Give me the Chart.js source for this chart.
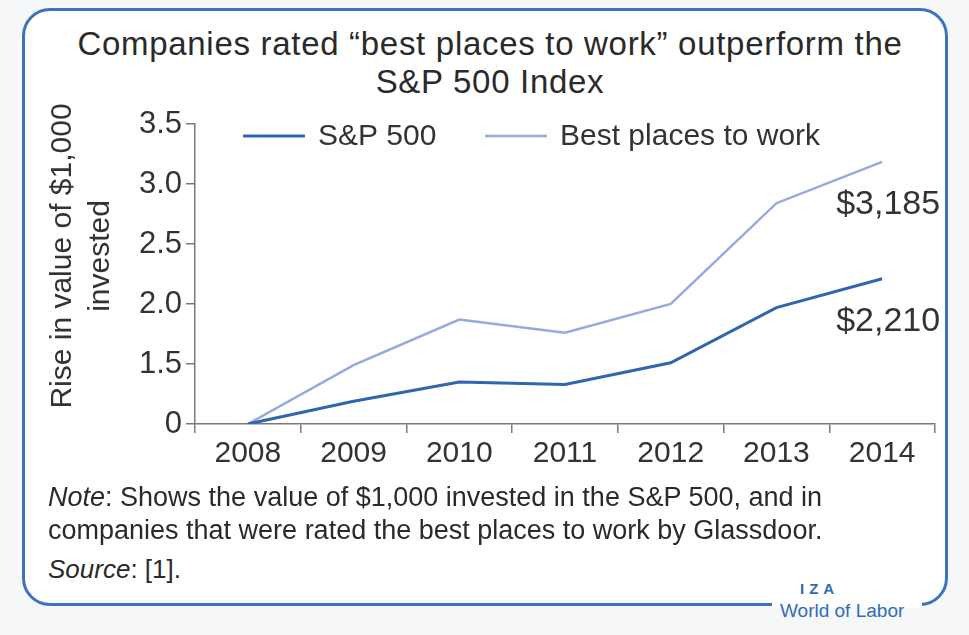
<!DOCTYPE html>
<html>
<head>
<meta charset="utf-8">
<script src="https://cdn.jsdelivr.net/npm/chart.js@4"></script>
<style>
  body { margin: 0; width: 969px; height: 635px; background: #f6f7f9; overflow: hidden; position: relative;
         font-family: "Liberation Sans", Arial, sans-serif; color: #2a2a2a; }
  .frame { position: absolute; left: 22px; top: 8px; width: 920px; height: 592px; background: #fff;
           border: 3px solid #3a74bd; border-radius: 28px; }
  .title { position: absolute; left: 30px; width: 920px; top: 25px; text-align: center; font-size: 33px; line-height: 38px; letter-spacing: 0.7px; }
  .chart { position: absolute; left: 30px; top: 100px; width: 920px; height: 385px; }
  .note { position: absolute; left: 48px; top: 481px; font-size: 27px; line-height: 33px; }
  .source { position: absolute; left: 48px; top: 554px; font-size: 26px; }
  .logo-gap { position: absolute; left: 772px; top: 594px; width: 150px; height: 14px; background: #fff; }
  .iza { position: absolute; left: 800px; top: 580px; font-size: 15px; font-weight: bold; color: #2f6db6; letter-spacing: 5px; }
  .wol { position: absolute; left: 780px; top: 600px; font-size: 19px; color: #2f6db6; }
</style>
</head>
<body>
<div class="frame"></div>
<div class="logo-gap"></div>
<div class="title">Companies rated “best places to work” outperform the<br>S&amp;P 500 Index</div>
<div class="chart"><canvas id="lineChart"></canvas></div>
<div class="note"><i>Note</i>: Shows the value of $1,000 invested in the S&amp;P 500, and in<br>companies that were rated the best places to work by Glassdoor.</div>
<div class="source"><i>Source</i>: [1].</div>
<div class="iza">IZA</div>
<div class="wol">World of Labor</div>

<script>
// years on the x axis
const years = ['2008', '2009', '2010', '2011', '2012', '2013', '2014'];
// value of $1,000 invested (in thousands)
const sp500 = [1.0, 1.19, 1.35, 1.33, 1.51, 1.97, 2.21];
const bestPlaces = [1.0, 1.49, 1.87, 1.76, 2.0, 2.84, 3.185];
const endLabels = ['$2,210', '$3,185'];
const yTicks = [1.0, 1.5, 2.0, 2.5, 3.0, 3.5];
const yTitle = ['Rise in value of $1,000', 'invested'];

const axisColor = '#7a7a7a';
const textColor = '#333';
const fontFamily = '"Liberation Sans", Arial, sans-serif';

// legend drawn inside the plot area, like the original
const insideLegend = {
    id: 'insideLegend',
    afterDraw(chart) {
        const ctx = chart.ctx;
        const area = chart.chartArea;
        const y = area.top + 12;
        const spots = [area.left + 48, area.left + 290];
        ctx.save();
        ctx.font = '30px ' + fontFamily;
        ctx.textBaseline = 'middle';
        chart.data.datasets.forEach((ds, i) => {
            const x = spots[i];
            ctx.strokeStyle = ds.borderColor;
            ctx.lineWidth = ds.borderWidth;
            ctx.beginPath();
            ctx.moveTo(x, y);
            ctx.lineTo(x + 62, y);
            ctx.stroke();
            ctx.fillStyle = textColor;
            ctx.fillText(ds.label, x + 75, y + 1);
        });
        ctx.restore();
    }
};

// end-of-line value labels
const endValueLabels = {
    id: 'endValueLabels',
    afterDatasetsDraw(chart) {
        const ctx = chart.ctx;
        ctx.save();
        ctx.font = '34px ' + fontFamily;
        ctx.fillStyle = textColor;
        ctx.textAlign = 'right';
        ctx.textBaseline = 'middle';
        chart.data.datasets.forEach((ds, i) => {
            const pts = chart.getDatasetMeta(i).data;
            const last = pts[pts.length - 1];
            ctx.fillText(endLabels[i], last.x + 58, last.y + 43);
        });
        ctx.restore();
    }
};

// rotated two-line y axis title, sitting a bit above the axis middle
const yAxisTitle = {
    id: 'yAxisTitle',
    afterDraw(chart) {
        const ctx = chart.ctx;
        const area = chart.chartArea;
        const cy = (area.top + area.bottom) / 2 - 18;
        ctx.save();
        ctx.font = '30px ' + fontFamily;
        ctx.fillStyle = textColor;
        ctx.textAlign = 'center';
        ctx.textBaseline = 'middle';
        yTitle.forEach((line, i) => {
            ctx.save();
            ctx.translate(33 + i * 38, cy);
            ctx.rotate(-Math.PI / 2);
            ctx.fillText(line, 0, 0);
            ctx.restore();
        });
        ctx.restore();
    }
};

new Chart(document.getElementById('lineChart').getContext('2d'), {
    type: 'line',
    data: {
        labels: years,
        datasets: [{
            label: 'S&P 500',
            data: sp500,
            borderColor: '#2f66ae',
            borderWidth: 3,
            pointRadius: 0,
            tension: 0
        }, {
            label: 'Best places to work',
            data: bestPlaces,
            borderColor: '#95aadd',
            borderWidth: 2.5,
            pointRadius: 0,
            tension: 0
        }]
    },
    options: {
        responsive: true,
        maintainAspectRatio: false,
        animation: false,
        layout: { padding: { left: 0, top: 24, right: 15, bottom: 0 } },
        scales: {
            x: {
                offset: true,
                grid: { offset: true, drawOnChartArea: false, color: axisColor, tickLength: 9, lineWidth: 1.5 },
                border: { color: axisColor, width: 1.5 },
                ticks: { color: textColor, font: { size: 30, family: fontFamily }, padding: 3, maxRotation: 0 },
                afterFit(scale) { scale.height = 61; }
            },
            y: {
                min: 1,
                max: 3.5,
                afterBuildTicks(scale) { scale.ticks = yTicks.map(v => ({ value: v })); },
                grid: { drawOnChartArea: false, color: axisColor, tickLength: 9, lineWidth: 1.5 },
                border: { color: axisColor, width: 1.5 },
                ticks: {
                    color: textColor,
                    font: { size: 31, family: fontFamily },
                    padding: 4,
                    callback: v => v === 1 ? '0' : v.toFixed(1)
                },
                afterFit(scale) { scale.width = 165; }
            }
        },
        plugins: {
            legend: { display: false },
            tooltip: { enabled: false }
        }
    },
    plugins: [insideLegend, endValueLabels, yAxisTitle]
});
</script>
</body>
</html>
